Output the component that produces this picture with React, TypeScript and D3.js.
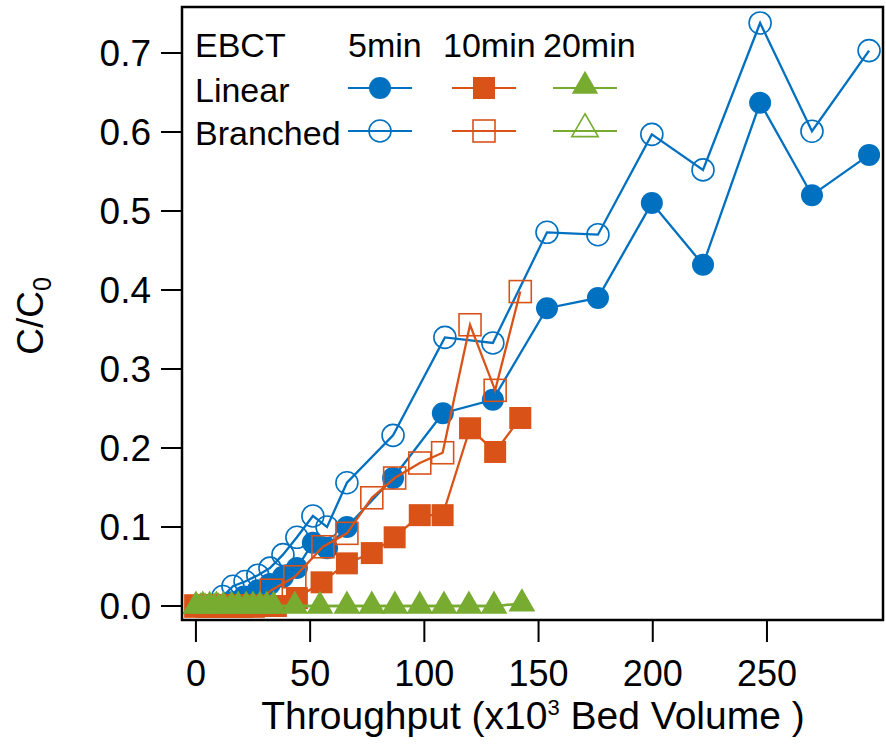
import React from "react";
import * as d3 from "d3";

// ---- Data ----
const linear5X = [16, 21, 27, 32.4, 38.1, 44.2, 51.2, 57.4, 66.1, 86.3, 108.1, 130, 153.7, 176, 199.6, 222, 247, 269.7, 294.7];
const linear5Y = [0.005, 0.012, 0.02, 0.028, 0.037, 0.048, 0.08, 0.073, 0.1, 0.162, 0.244, 0.261, 0.377, 0.39, 0.51, 0.432, 0.637, 0.52, 0.571];

const branched5X = [11.8, 16.2, 21.5, 27.1, 32.4, 38.1, 44.2, 51.2, 57.4, 66.1, 86.3, 109, 130, 153.7, 176, 199.6, 222, 247, 269.7, 294.7];
const branched5Y = [0.012, 0.025, 0.031, 0.039, 0.048, 0.065, 0.087, 0.114, 0.1, 0.156, 0.216, 0.34, 0.333, 0.473, 0.47, 0.597, 0.552, 0.738, 0.601, 0.703];

const linear10X = [0, 5, 10, 15, 20, 25, 30, 35, 44.2, 55, 66.1, 77, 87, 98, 108, 120, 131, 142];
const linear10Y = [0, 0, 0, 0, 0, 0, 0, 0, 0.01, 0.03, 0.054, 0.067, 0.087, 0.115, 0.115, 0.225, 0.195, 0.238];

const branched10X = [0, 5, 10, 15, 20, 25, 33, 43.3, 55.6, 66.1, 77, 87, 98, 108, 120, 131, 142];
const branched10Y = [0, 0, 0, 0, 0, 0, 0.02, 0.037, 0.075, 0.092, 0.137, 0.162, 0.181, 0.194, 0.356, 0.273, 0.398];

const linear20X = [0, 2, 4, 6, 8, 10, 12, 15.6, 18.5, 22, 25, 28, 31, 34, 43.3, 54.3, 66.1, 77, 87.1, 98, 108.6, 119.5, 130.5, 142.7];
const linear20Y = [0, 0, 0, 0, 0, 0, 0, 0, 0, 0, 0, 0, 0, 0, 0, 0, 0, 0, 0, 0, 0, 0, 0, 0.003];

const branched20X = [0, 3, 6, 9, 12, 15.6, 18.5, 22, 25, 28, 31, 34, 43.3, 54.3, 66.1, 77, 87.1, 98, 108.6, 119.5, 130.5, 142.7];
const branched20Y = [0, 0, 0, 0, 0, 0, 0, 0, 0, 0, 0, 0, 0, 0, 0, 0, 0, 0, 0, 0, 0, 0.003];

const xTicks = [0, 50, 100, 150, 200, 250];
const yTicks = [0.0, 0.1, 0.2, 0.3, 0.4, 0.5, 0.6, 0.7];

const ebctLabels = ["5min", "10min", "20min"];
const rowLabels = ["Linear", "Branched"];

const BLUE = "#0070C0";
const ORANGE = "#D95319";
const GREEN = "#77AC30";
const FONT = "'Liberation Sans', Arial, Helvetica, sans-serif";

type Shape = "circle" | "square" | "triangle";

function Marker({ shape, x, y, filled, color, scale = 1 }: { shape: Shape; x: number; y: number; filled: boolean; color: string; scale?: number }) {
  const fill = filled ? color : "white";
  const fillOpacity = filled ? 1 : 0;
  const sw = 1.6;
  if (shape === "circle") {
    return <circle cx={x} cy={y} r={11 * scale} fill={fill} fillOpacity={fillOpacity} stroke={color} strokeWidth={filled ? 0 : sw} />;
  }
  if (shape === "square") {
    const s = 22 * scale;
    return <rect x={x - s / 2} y={y - s / 2} width={s} height={s} fill={fill} fillOpacity={fillOpacity} stroke={color} strokeWidth={filled ? 0 : sw} />;
  }
  const path = d3.symbol().type(d3.symbolTriangle).size(250 * scale * scale)() as string;
  return <path transform={`translate(${x},${y})`} d={path} fill={fill} fillOpacity={fillOpacity} stroke={color} strokeWidth={filled ? 0 : sw} strokeLinejoin="miter" />;
}

export default function App() {
  const W = 886, H = 755;
  const left = 182, right = 883, top = 7, bottom = 620;
  const x = d3.scaleLinear().domain([-6.1, 300.8]).range([left, right]);
  const y = d3.scaleLinear().domain([-0.0177, 0.7582]).range([bottom, top]);
  const line = d3.line<[number, number]>().x(d => x(d[0])).y(d => y(d[1]));

  const series: { xs: number[]; ys: number[]; color: string; shape: Shape; filled: boolean }[] = [
    { xs: branched5X, ys: branched5Y, color: BLUE, shape: "circle", filled: false },
    { xs: linear5X, ys: linear5Y, color: BLUE, shape: "circle", filled: true },
    { xs: branched10X, ys: branched10Y, color: ORANGE, shape: "square", filled: false },
    { xs: linear10X, ys: linear10Y, color: ORANGE, shape: "square", filled: true },
    { xs: branched20X, ys: branched20Y, color: GREEN, shape: "triangle", filled: false },
    { xs: linear20X, ys: linear20Y, color: GREEN, shape: "triangle", filled: true },
  ];

  const legendCols = [
    { cx: 380, color: BLUE, shape: "circle" as Shape, tx: 348 },
    { cx: 484, color: ORANGE, shape: "square" as Shape, tx: 443 },
    { cx: 585, color: GREEN, shape: "triangle" as Shape, tx: 543 },
  ];
  const legendRows = [88, 131];

  return (
    <svg width={W} height={H} style={{ position: "absolute", left: 0, top: 0, background: "white" }} fontFamily={FONT}>
      <rect x={0} y={0} width={W} height={H} fill="white" />
      {/* series */}
      {series.map((s, i) => {
        const pts: [number, number][] = s.xs.map((v, j) => [v, s.ys[j]]);
        return (
          <g key={i}>
            <path d={line(pts) as string} fill="none" stroke={s.color} strokeWidth={2.3} strokeLinejoin="miter" />
            {pts.map((p, j) => (
              <Marker key={j} shape={s.shape} x={x(p[0])} y={y(p[1])} filled={s.filled} color={s.color} />
            ))}
          </g>
        );
      })}

      {/* frame */}
      <rect x={left} y={top} width={right - left} height={bottom - top} fill="none" stroke="black" strokeWidth={2.5} />

      {/* x axis */}
      {xTicks.map(t => (
        <g key={t}>
          <line x1={x(t)} x2={x(t)} y1={bottom} y2={bottom + 22} stroke="black" strokeWidth={2} />
          <text x={x(t)} y={686} textAnchor="middle" fontSize={36} fill="black">{t}</text>
        </g>
      ))}
      {/* y axis */}
      {yTicks.map(t => (
        <g key={t}>
          <line x1={left - 21} x2={left} y1={y(t)} y2={y(t)} stroke="black" strokeWidth={2} />
          <text x={151} y={y(t) + 13} textAnchor="end" fontSize={37} fill="black">{t.toFixed(1)}</text>
        </g>
      ))}

      {/* axis titles */}
      <text x={533} y={729} textAnchor="middle" fontSize={39} fill="black">
        Throughput (x10<tspan dy={-14} fontSize={22}>3</tspan><tspan dy={14}> Bed Volume )</tspan>
      </text>
      <text transform="translate(43,316) rotate(-90)" textAnchor="middle" fontSize={37} fill="black">
        C/C<tspan dy={8} fontSize={25}>0</tspan>
      </text>

      {/* legend */}
      <text x={195} y={57} fontSize={34} fill="black">EBCT</text>
      {legendCols.map((c, i) => (
        <text key={"h" + i} x={c.tx} y={57} fontSize={34} fill="black">{ebctLabels[i]}</text>
      ))}
      {rowLabels.map((r, i) => (
        <text key={"r" + i} x={195} y={legendRows[i] + 14} fontSize={34} fill="black">{r}</text>
      ))}
      {legendRows.map((ly, ri) =>
        legendCols.map((c, ci) => (
          <g key={`${ri}-${ci}`}>
            <line x1={c.cx - 32} x2={c.cx + 32} y1={ly} y2={ly} stroke={c.color} strokeWidth={2.2} />
            <Marker shape={c.shape} x={c.cx} y={c.shape === "triangle" ? ly - 2 : ly} filled={ri === 0} color={c.color} scale={c.shape === "triangle" ? 1.1 : 1} />
          </g>
        ))
      )}
    </svg>
  );
}
